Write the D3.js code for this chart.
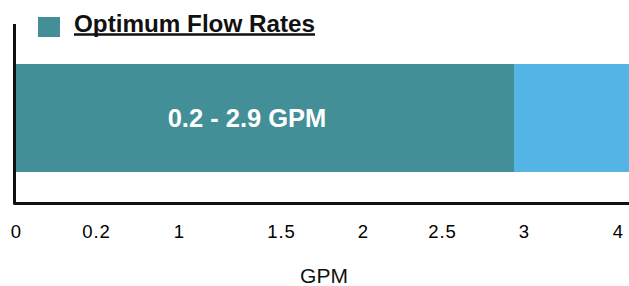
<!DOCTYPE html>
<html>
<head>
<meta charset="utf-8">
<script src="https://cdn.jsdelivr.net/npm/d3@7"></script>
<style>
    html, body { margin: 0; padding: 0; background: #fff; }
    #chart { width: 629px; height: 286px; }
    text { font-family: "Liberation Sans", Arial, sans-serif; }
</style>
</head>
<body>
<div id="chart"></div>
<script>
//Datos
const tickValues = [0, 0.2, 1, 1.5, 2, 2.5, 3, 4];
const tickLabels = ['0', '0.2', '1', '1.5', '2', '2.5', '3', '4'];
const rangeLow = 0.2, rangeHigh = 2.9;
const axisMax = 4.12;
const seriesNames = ['Optimum Flow Rates', 'Above optimum'];
const seriesStart = [0, rangeHigh];
const seriesEnd = [rangeHigh, axisMax];
const barLabel = rangeLow + ' - ' + rangeHigh + ' GPM';
const axisTitle = 'GPM';

//Colores fijos
const COLOR_PRIMARY_1 = '#428F97',
COLOR_COMP_1 = '#55B4E6';

//Posiciones de la escala (la escala del original no es lineal)
const scaleDomain = [0, 0.2, 1, 1.5, 2, 2.5, 2.9, 3, 4];
const scaleRange = [16, 96, 179, 281, 363, 442, 514, 524, 618];

let svg = d3.select('#chart')
    .append('svg')
        .attr('width', 629)
        .attr('height', 286);

let x = d3.scaleLinear()
    .domain(scaleDomain)
    .range(scaleRange);

let y = d3.scaleBand()
    .domain(['bar'])
    .range([64, 172])
    .padding(0);

let color = d3.scaleOrdinal()
    .domain(seriesNames)
    .range([COLOR_PRIMARY_1, COLOR_COMP_1]);

let bars = seriesNames.map(function(d, i) { return {key: d, x0: seriesStart[i], x1: seriesEnd[i]}; });

//Barras
svg.append('g')
    .selectAll('rect')
    .data(bars)
    .enter()
    .append('rect')
    .attr('x', function(d) { return x(d.x0); })
    .attr('width', function(d) { return x(d.x1) - x(d.x0); })
    .attr('y', y('bar'))
    .attr('height', y.bandwidth())
    .attr('fill', function(d) { return color(d.key); });

//Etiqueta de la barra
svg.append('text')
    .attr('x', 247)
    .attr('y', y('bar') + y.bandwidth() / 2 + 9)
    .attr('text-anchor', 'middle')
    .attr('fill', '#fff')
    .style('font-weight', 'bold')
    .style('font-size', '25.5px')
    .text(barLabel);

//Ejes
svg.append('path')
    .attr('d', 'M14.5,24 V' + 203.5 + ' H629')
    .attr('fill', 'none')
    .attr('stroke', '#111')
    .attr('stroke-width', 3)
    .attr('stroke-linejoin', 'round');

let xAxis = function(g) {
    g.call(d3.axisBottom(x).tickValues(tickValues).tickSize(0).tickPadding(0)
        .tickFormat(function(d, i) { return tickLabels[i]; }));
    g.attr('font-size', 18.5).attr('font-family', '"Liberation Sans", Arial, sans-serif');
    g.call(function(g) { g.select('.domain').remove(); });
    g.call(function(g) {
        g.selectAll('.tick text')
            .attr('dy', null)
            .attr('y', 0)
            .attr('fill', '#000')
            .style('letter-spacing', '1px');
    });
};

svg.append('g')
    .attr('transform', 'translate(0,238)')
    .call(xAxis);

svg.append('text')
    .attr('x', 324)
    .attr('y', 283)
    .attr('text-anchor', 'middle')
    .attr('fill', '#111')
    .style('font-size', '21px')
    .text(axisTitle);

//Leyenda
let legend = svg.append('g');

legend.append('rect')
    .attr('x', 38)
    .attr('y', 17)
    .attr('width', 22)
    .attr('height', 20)
    .attr('fill', color(seriesNames[0]));

legend.append('text')
    .attr('x', 74)
    .attr('y', 32)
    .attr('fill', '#111')
    .attr('textLength', 241)
    .attr('lengthAdjust', 'spacingAndGlyphs')
    .style('font-weight', 'bold')
    .style('font-size', '23px')
    .text(seriesNames[0]);

legend.append('line')
    .attr('x1', 74)
    .attr('x2', 315)
    .attr('y1', 34.5)
    .attr('y2', 34.5)
    .attr('stroke', '#111')
    .attr('stroke-width', 2.5);
</script>
</body>
</html>
